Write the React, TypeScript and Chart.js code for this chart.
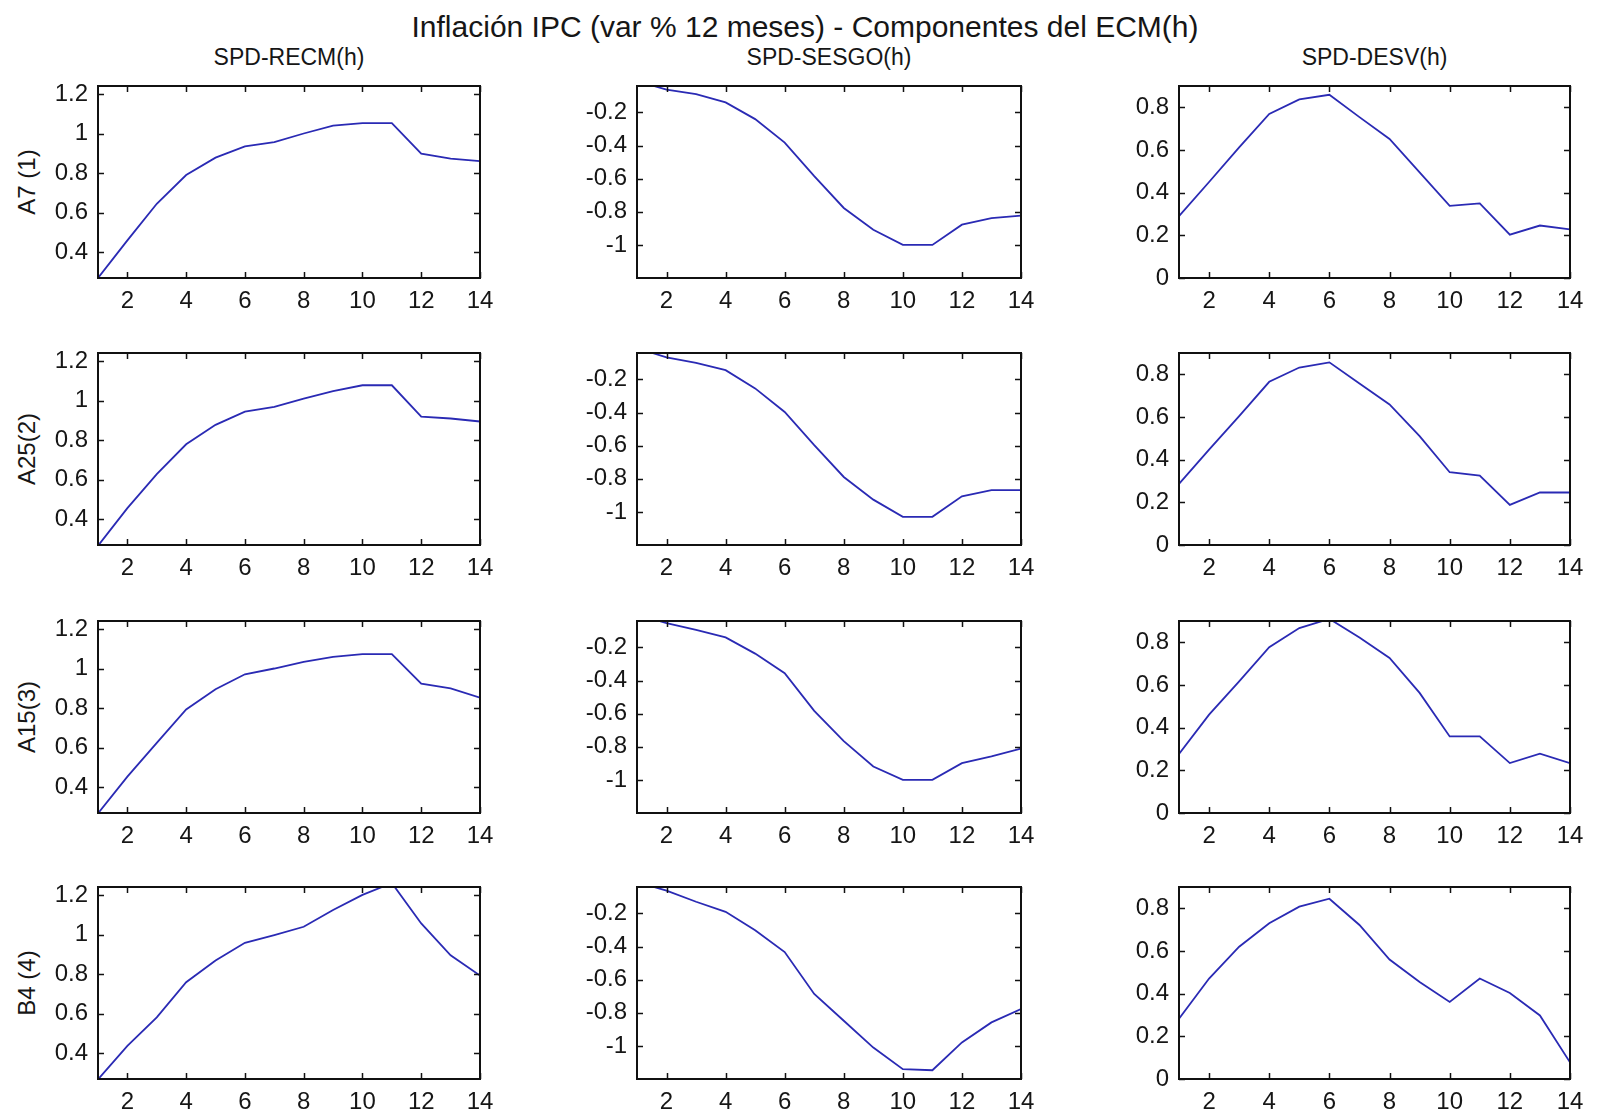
import React, { useEffect, useRef } from "react";
import { Chart, registerables } from "chart.js";

Chart.register(...registerables);

// ---------------- DATA ----------------
const H = [1, 2, 3, 4, 5, 6, 7, 8, 9, 10, 11, 12, 13, 14];
const X_TICKS = [2, 4, 6, 8, 10, 12, 14];

const MAIN_TITLE = "Inflación IPC (var % 12 meses) - Componentes del ECM(h)";
const COL_TITLES = ["SPD-RECM(h)", "SPD-SESGO(h)", "SPD-DESV(h)"];
const ROW_LABELS = ["A7 (1)", "A25(2)", "A15(3)", "B4 (4)"];

const RECM_TICKS = [0.4, 0.6, 0.8, 1, 1.2];
const SESGO_TICKS = [-1, -0.8, -0.6, -0.4, -0.2];
const DESV_TICKS = [0, 0.2, 0.4, 0.6, 0.8];

const RECM_RANGE = [0.27, 1.24];
const SESGO_RANGE = [-1.2, -0.04];
const DESV_RANGE = [0, 0.9];

// SPD-RECM(h)
const RECM_A7 = [0.27, 0.46, 0.645, 0.79, 0.878, 0.935, 0.957, 1.0, 1.04, 1.052, 1.052, 0.898, 0.873, 0.86];
const RECM_A25 = [0.266, 0.456, 0.628, 0.779, 0.877, 0.944, 0.968, 1.01, 1.048, 1.077, 1.077, 0.919, 0.909, 0.894];
const RECM_A15 = [0.268, 0.454, 0.624, 0.793, 0.895, 0.971, 1.0, 1.034, 1.059, 1.073, 1.073, 0.924, 0.9, 0.853];
const RECM_B4 = [0.268, 0.437, 0.581, 0.759, 0.869, 0.958, 0.997, 1.039, 1.124, 1.2, 1.26, 1.056, 0.895, 0.793];

// SPD-SESGO(h)
const SESGO_A7 = [-0.01, -0.062, -0.089, -0.139, -0.24, -0.382, -0.585, -0.777, -0.909, -1.0, -1.0, -0.878, -0.838, -0.823];
const SESGO_A25 = [-0.01, -0.067, -0.1, -0.144, -0.254, -0.396, -0.597, -0.789, -0.926, -1.03, -1.03, -0.906, -0.869, -0.869];
const SESGO_A15 = [0.0, -0.053, -0.094, -0.139, -0.237, -0.355, -0.583, -0.766, -0.919, -1.0, -1.0, -0.899, -0.858, -0.811];
const SESGO_B4 = [-0.01, -0.062, -0.129, -0.19, -0.301, -0.433, -0.686, -0.848, -1.01, -1.141, -1.147, -0.979, -0.858, -0.777];

// SPD-DESV(h)
const DESV_A7 = [0.29, 0.45, 0.612, 0.769, 0.837, 0.859, 0.754, 0.652, 0.495, 0.338, 0.35, 0.203, 0.246, 0.228];
const DESV_A25 = [0.286, 0.447, 0.604, 0.765, 0.832, 0.856, 0.757, 0.659, 0.51, 0.341, 0.325, 0.188, 0.246, 0.246];
const DESV_A15 = [0.277, 0.461, 0.617, 0.777, 0.867, 0.91, 0.823, 0.727, 0.563, 0.359, 0.359, 0.234, 0.278, 0.234];
const DESV_B4 = [0.283, 0.471, 0.62, 0.73, 0.808, 0.845, 0.722, 0.56, 0.455, 0.361, 0.471, 0.403, 0.298, 0.078];

const GRID_VALUES = [
  [RECM_A7, SESGO_A7, DESV_A7],
  [RECM_A25, SESGO_A25, DESV_A25],
  [RECM_A15, SESGO_A15, DESV_A15],
  [RECM_B4, SESGO_B4, DESV_B4],
];
const COL_TICKS = [RECM_TICKS, SESGO_TICKS, DESV_TICKS];
const COL_RANGES = [RECM_RANGE, SESGO_RANGE, DESV_RANGE];

// ---------------- LAYOUT / STYLE ----------------
const FONT = '"Liberation Sans", Arial, Helvetica, sans-serif';
const TEXT = "#161616";
const LINE = "#2a2ab4";
const COL_LEFT = [98, 637, 1179];
const COL_WIDTH = [382, 384, 391];
const ROW_TOP = [86, 353, 621, 887];
const PLOT_H = 192;
const LW = 90; // room for y tick labels
const PT = 20;
const PR = 26;
const BH = 46;

const fmt = (v: number) => String(Number(v.toFixed(2)));

const boxPlugin = {
  id: "matlabBox",
  afterDraw(chart: any) {
    const { ctx, chartArea: a, scales } = chart;
    const TL = 6;
    ctx.save();
    ctx.strokeStyle = "#111";
    ctx.lineWidth = 1.5;
    ctx.beginPath();
    scales.x.ticks.forEach((t: any) => {
      const px = Math.round(scales.x.getPixelForValue(t.value)) + 0.5;
      ctx.moveTo(px, a.bottom);
      ctx.lineTo(px, a.bottom - TL);
      ctx.moveTo(px, a.top);
      ctx.lineTo(px, a.top + TL);
    });
    scales.y.ticks.forEach((t: any) => {
      const py = Math.round(scales.y.getPixelForValue(t.value)) + 0.5;
      ctx.moveTo(a.left, py);
      ctx.lineTo(a.left + TL, py);
      ctx.moveTo(a.right, py);
      ctx.lineTo(a.right - TL, py);
    });
    ctx.stroke();
    ctx.lineWidth = 2;
    ctx.strokeRect(a.left, a.top, a.right - a.left, a.bottom - a.top);
    ctx.restore();
  },
};

function Panel(props: {
  left: number;
  top: number;
  width: number;
  height: number;
  values: number[];
  yTicks: number[];
  yRange: number[];
}) {
  const { left, top, width, height, values, yTicks, yRange } = props;
  const ref = useRef<HTMLCanvasElement>(null);
  const cw = width + LW + PR;
  const ch = height + PT + BH;

  useEffect(() => {
    const chart = new Chart(ref.current as HTMLCanvasElement, {
      type: "line",
      data: {
        datasets: [
          {
            data: H.map((h, i) => ({ x: h, y: values[i] })),
            borderColor: LINE,
            borderWidth: 1.8,
            pointRadius: 0,
            tension: 0,
            fill: false,
          },
        ],
      },
      options: {
        animation: false,
        responsive: false,
        maintainAspectRatio: false,
        events: [],
        layout: { padding: { left: 0, top: PT, right: PR, bottom: 0 } },
        plugins: {
          legend: { display: false },
          tooltip: { enabled: false },
          title: { display: false },
        },
        scales: {
          x: {
            type: "linear",
            min: 1,
            max: 14,
            grid: { display: false, drawTicks: false },
            border: { display: false },
            afterBuildTicks: (s: any) => {
              s.ticks = X_TICKS.map((v) => ({ value: v }));
            },
            afterFit: (s: any) => {
              s.height = BH;
              s.paddingLeft = 0;
              s.paddingRight = 0;
            },
            ticks: {
              font: { family: FONT, size: 24 },
              color: TEXT,
              padding: 9,
              maxRotation: 0,
              autoSkip: false,
              callback: (v: any) => fmt(Number(v)),
            },
          },
          y: {
            type: "linear",
            min: yRange[0],
            max: yRange[1],
            grid: { display: false, drawTicks: false },
            border: { display: false },
            afterBuildTicks: (s: any) => {
              s.ticks = yTicks.map((v) => ({ value: v }));
            },
            afterFit: (s: any) => {
              s.width = LW;
              s.paddingTop = 0;
              s.paddingBottom = 0;
            },
            ticks: {
              font: { family: FONT, size: 24 },
              color: TEXT,
              padding: 10,
              autoSkip: false,
              callback: (v: any) => fmt(Number(v)),
            },
          },
        },
      } as any,
      plugins: [boxPlugin],
    });
    return () => chart.destroy();
  }, []);

  return (
    <canvas
      ref={ref}
      width={cw}
      height={ch}
      style={{
        position: "absolute",
        left: left - LW,
        top: top - PT,
        width: cw,
        height: ch,
      }}
    />
  );
}

export default function App() {
  return (
    <div
      style={{
        position: "absolute",
        left: 0,
        top: 0,
        width: 1607,
        height: 1116,
        background: "#ffffff",
        overflow: "hidden",
        fontFamily: FONT,
        color: TEXT,
      }}
    >
      <div
        style={{
          position: "absolute",
          left: 805,
          top: 27,
          transform: "translate(-50%, -50%)",
          fontSize: 30,
          lineHeight: 1,
          whiteSpace: "nowrap",
        }}
      >
        {MAIN_TITLE}
      </div>
      {COL_TITLES.map((t, c) => (
        <div
          key={"ct" + c}
          style={{
            position: "absolute",
            left: COL_LEFT[c] + COL_WIDTH[c] / 2,
            top: 57,
            transform: "translate(-50%, -50%)",
            fontSize: 23,
            lineHeight: 1,
            whiteSpace: "nowrap",
          }}
        >
          {t}
        </div>
      ))}
      {ROW_LABELS.map((t, r) => (
        <div
          key={"rl" + r}
          style={{
            position: "absolute",
            left: 27,
            top: ROW_TOP[r] + PLOT_H / 2,
            transform: "translate(-50%, -50%) rotate(-90deg)",
            fontSize: 24,
            lineHeight: 1,
            whiteSpace: "nowrap",
          }}
        >
          {t}
        </div>
      ))}
      {GRID_VALUES.map((row, r) =>
        row.map((vals, c) => (
          <Panel
            key={r + "-" + c}
            left={COL_LEFT[c]}
            top={ROW_TOP[r]}
            width={COL_WIDTH[c]}
            height={PLOT_H}
            values={vals}
            yTicks={COL_TICKS[c]}
            yRange={COL_RANGES[c]}
          />
        ))
      )}
    </div>
  );
}
